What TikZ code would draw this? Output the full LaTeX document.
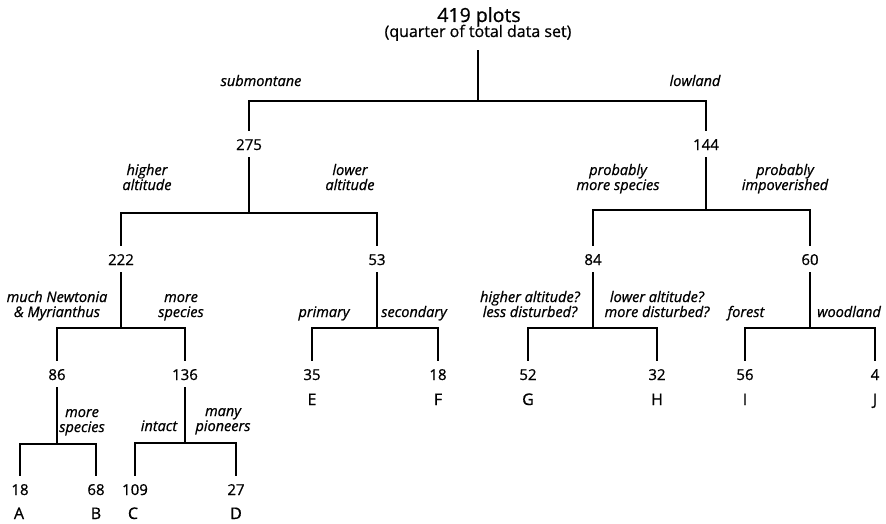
\documentclass[tikz,border=0pt]{standalone}
\usepackage{fontspec}
\setmainfont{Open Sans}[FakeBold=0.8]
\begin{document}
\begin{tikzpicture}[x=1pt,y=-1pt,
  num/.style={anchor=base, inner sep=0pt, text height=19pt, text depth=7pt,
    font=\fontsize{15}{17}\selectfont},
  leafname/.style={anchor=base, inner sep=0pt, font=\fontsize{16}{18}\selectfont},
  lab/.style={anchor=base, inner sep=0pt, align=center,
    font=\fontsize{14.5}{15}\selectfont\itshape},
  branch/.style={line width=2pt}]
\useasboundingbox (0,0) rectangle (886,524);

% root
\node[anchor=base, inner sep=0pt, font=\fontsize{19.5}{22}\selectfont] (title) at (479,22) {419 plots};
\node[anchor=base, inner sep=0pt, text depth=13pt, font=\fontsize{16}{18}\selectfont] (root) at (478,37) {(quarter of total data set)};

% junction points
\coordinate (j0) at (478,101);
\coordinate (j1) at (249,213);
\coordinate (j2) at (706,210);
\coordinate (j3) at (121,328);
\coordinate (j4) at (377,328);
\coordinate (j5) at (593,328);
\coordinate (j6) at (810,328);
\coordinate (j7) at (57,444);
\coordinate (j8) at (185,443);

% group sizes
\node[num] (n275) at (249,150) {275};
\node[num] (n144) at (706,150) {144};
\node[num] (n222) at (121,265) {222};
\node[num] (n53)  at (377,265) {53};
\node[num] (n84)  at (593,265) {84};
\node[num] (n60)  at (810,265) {60};
\node[num] (n86)  at (57,380)  {86};
\node[num] (n136) at (185,380) {136};
\node[num] (n35)  at (312,380) {35};
\node[num] (n18b) at (438,380) {18};
\node[num] (n52)  at (528,380) {52};
\node[num] (n32)  at (657,380) {32};
\node[num] (n56)  at (745,380) {56};
\node[num] (n4)   at (875,380) {4};
\node[num] (n18a) at (20,495)  {18};
\node[num] (n68)  at (96,495)  {68};
\node[num] (n109) at (135,495) {109};
\node[num] (n27)  at (236,495) {27};

% community letters
\node[leafname] (lA) at (19,519)  {A};
\node[leafname] (lB) at (96,519)  {B};
\node[leafname] (lC) at (133,519) {C};
\node[leafname] (lD) at (236,519) {D};
\node[leafname] (lE) at (312,405) {E};
\node[leafname] (lF) at (438,405) {F};
\node[leafname] (lG) at (528,405) {G};
\node[leafname] (lH) at (657,405) {H};
\node[leafname] (lI) at (745,405) {I};
\node[leafname] (lJ) at (875,405) {J};

% branch descriptions (base = baseline of the last line)
\node[lab] (tSub)  at (261,86)  {submontane};
\node[lab] (tLow)  at (695,86)  {lowland};
\node[lab] (tHiA)  at (147,190) {higher\\altitude};
\node[lab] (tLoA)  at (350,190) {lower\\altitude};
\node[lab] (tPMS)  at (618,190) {probably\\more species};
\node[lab] (tPI)   at (785,190) {probably\\impoverished};
\node[lab] (tNew)  at (57,317)  {much Newtonia\\\& Myrianthus};
\node[lab] (tMS1)  at (181,317) {more\\species};
\node[lab] (tPri)  at (324,317) {primary};
\node[lab] (tSec)  at (414,317) {secondary};
\node[lab] (tHAq)  at (530,317) {higher altitude?\\less disturbed?};
\node[lab] (tLAq)  at (657,317) {lower altitude?\\more disturbed?};
\node[lab] (tFor)  at (746,317) {forest};
\node[lab] (tWood) at (849,317) {woodland};
\node[lab] (tMS2)  at (82,432)  {more\\species};
\node[lab] (tInt)  at (159,431) {intact};
\node[lab] (tPio)  at (223,431) {many\\pioneers};

% tree branches
\draw[branch] (root.south) -- (j0);
\draw[branch] (n275.north) |- (j0) -| (n144.north);
\draw[branch] (n275.south) -- (j1);
\draw[branch] (n222.north) |- (j1) -| (n53.north);
\draw[branch] (n144.south) -- (j2);
\draw[branch] (n84.north) |- (j2) -| (n60.north);
\draw[branch] (n222.south) -- (j3);
\draw[branch] (n86.north) |- (j3) -| (n136.north);
\draw[branch] (n53.south) -- (j4);
\draw[branch] (n35.north) |- (j4) -| (n18b.north);
\draw[branch] (n84.south) -- (j5);
\draw[branch] (n52.north) |- (j5) -| (n32.north);
\draw[branch] (n60.south) -- (j6);
\draw[branch] (n56.north) |- (j6) -| (n4.north);
\draw[branch] (n86.south) -- (j7);
\draw[branch] (n18a.north) |- (j7) -| (n68.north);
\draw[branch] (n136.south) -- (j8);
\draw[branch] (n109.north) |- (j8) -| (n27.north);
\end{tikzpicture}
\end{document}
